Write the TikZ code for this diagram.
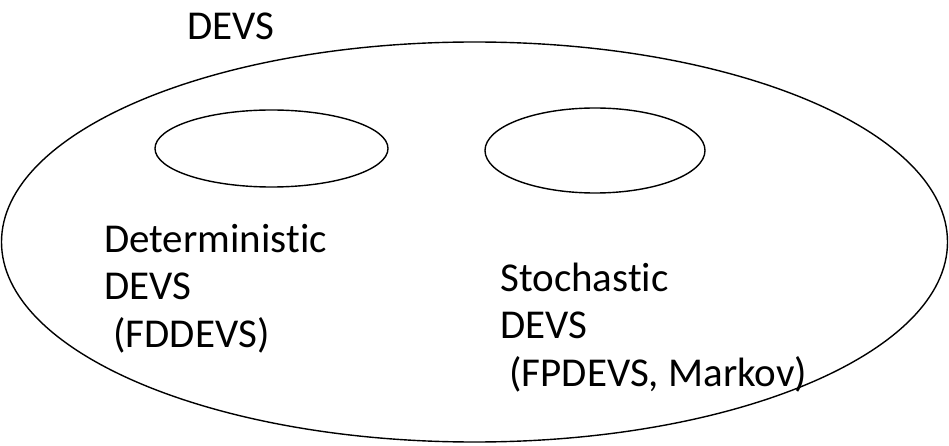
\documentclass[tikz,border=0pt]{standalone}
\usepackage{fontspec}
\setmainfont{Carlito}[Ligatures={NoCommon,NoRare,NoContextual}]
\usetikzlibrary{shapes.geometric}

\tikzset{
  set/.style={draw, ellipse, line width=1.4pt, inner sep=0pt},
  lbl/.style={anchor=base west, inner sep=0pt, align=left,
    font=\fontsize{41}{47.5}\selectfont}
}

\begin{document}
\begin{tikzpicture}[x=1pt,y=-1pt]
\useasboundingbox (0,0) rectangle (949,446);
% outer set
\node[set, minimum width=946pt, minimum height=400pt] (all) at (474.5,242) {};
% inner sets
\node[set, minimum width=233pt, minimum height=77pt] (detset) at (271.5,148.5) {};
\node[set, minimum width=220pt, minimum height=85pt] (stoset) at (595,150.5) {};

\node[lbl] (devs) at (187,40) {DEVS};
\node[lbl] (det) at (104,347) {Deterministic\\DEVS\\\hspace*{0.226em}(FDDEVS)};
\node[lbl] (sto) at (500,386) {Stochastic\\DEVS\\\hspace*{0.226em}(FPDEVS, Markov)};
\end{tikzpicture}
\end{document}
